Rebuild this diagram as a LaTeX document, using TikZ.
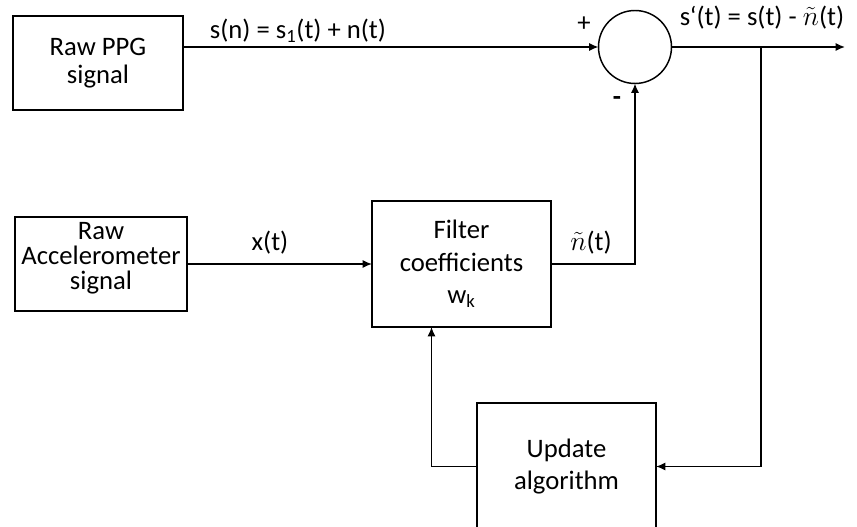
\documentclass[tikz,border=0pt]{standalone}
\usepackage{fontspec}
\setmainfont{Carlito}
\usepackage{tikz}
\usetikzlibrary{arrows.meta}
\usetikzlibrary{positioning}

\begin{document}
\begin{tikzpicture}[x=0.75pt, y=-0.75pt,
        font=\fontsize{20}{20.5}\selectfont,
        block/.style={draw, line width=1.1pt, align=center, inner sep=0pt, outer sep=0pt},
        sumnode/.style={draw, circle, line width=1.1pt, minimum size=54.75pt, inner sep=0pt, outer sep=0pt},
        conn/.style={line width=1.1pt},
        arr/.style={conn, -{Latex[length=7pt, width=6pt]}}]
            \useasboundingbox (0,0) rectangle (857,527);
            % blocks
            \node[block, minimum width=127.5pt, minimum height=70.5pt] (ppg) at (98,63) {Raw PPG\\signal};
            \node[block, minimum width=129pt, minimum height=70.5pt, text depth=12pt, font=\fontsize{20}{19}\selectfont] (acc) at (101,264) {Raw\\Accelerometer\\signal};
            \node[block, minimum width=134.25pt, minimum height=94.5pt, font=\fontsize{20}{24.5}\selectfont] (filt) at (461.5,264) {Filter\\coefficients\\w\textsubscript{k}};
            \node[block, minimum width=134.25pt, minimum height=95.25pt, font=\fontsize{20}{24.5}\selectfont] (upd) at (566.5,466.5) {Update\\algorithm};
            \node[sumnode] (sum) at (635,47) {};
            \coordinate (out) at (845,47);
            \coordinate (tap) at (761,47);
            % connectors
            \draw[arr] (ppg.east |- sum.west) -- (sum.west);
            \draw[arr] (sum.east) -- (out);
            \draw[arr] (acc.east) -- (filt.west);
            \draw[arr] (filt.east) -| (sum.south);
            \draw[arr] (tap) |- (upd.east);
            \draw[arr] (upd.west) -| ([xshift=-22.5pt]filt.south);
            % labels
            \node (lsn) at (298,31) {s(n) = s\textsubscript{1}(t) + n(t)};
            \node (lout) at (762,18) {s‘(t) = s(t) - $\tilde{n}$(t)};
            \node (lx) at (270,243) {x(t)};
            \node (ln) at (591,243) {$\tilde{n}$(t)};
            \node (lplus) at (584,24) {+};
            \node (lminus) at (617,101) {\textbf{-}};
        \end{tikzpicture}
\end{document}
